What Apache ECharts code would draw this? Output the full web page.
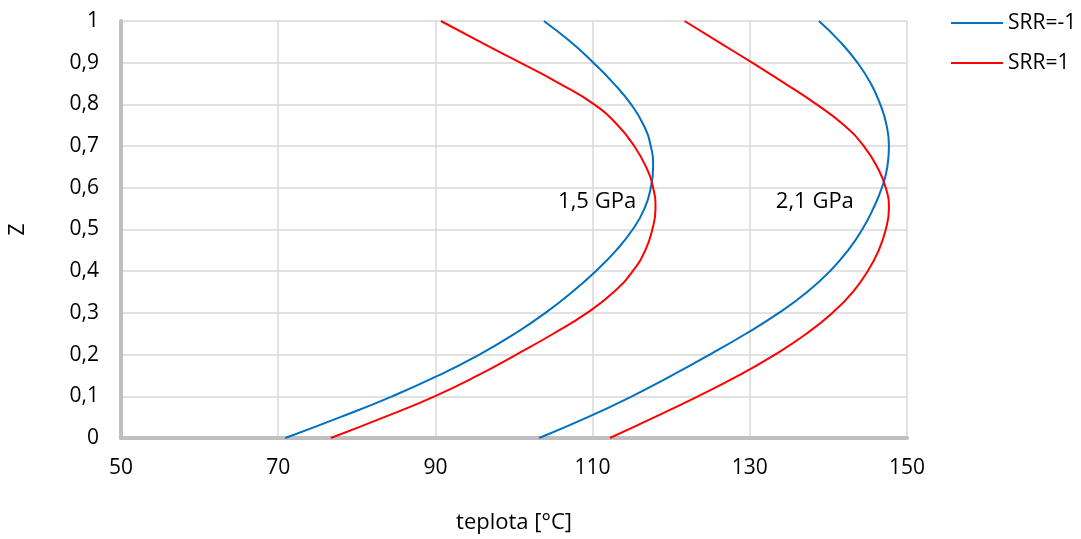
<!DOCTYPE html>
<html>
<head>
<meta charset="utf-8">
<script src="https://cdn.jsdelivr.net/npm/echarts@6/dist/echarts.min.js"></script>
<style>
html,body{margin:0;padding:0;background:#fff;}
#c{width:1081px;height:539px;}
</style>
</head>
<body>
<div id="c"></div>
<script>
// Z levels (shared) and temperatures [°C]
const zLevels = [0,0.05,0.1,0.15,0.2,0.25,0.3,0.35,0.4,0.45,0.5,0.55,0.6,0.65,0.7,0.75,0.8,0.85,0.9,0.95,1.0];
const tBlue15 = [70.9,77.9,84.5,90.4,95.6,100.1,104.0,107.4,110.4,113.0,115.1,116.6,117.4,117.7,117.4,116.5,114.9,112.7,110.1,107.2,103.8];
const tRed15  = [76.7,83.5,89.9,95.4,100.3,105.0,109.3,112.7,115.1,116.7,117.6,118.0,117.7,116.8,115.3,113.2,110.2,105.8,100.8,95.7,90.7];
const tBlue21 = [103.2,109.4,115.0,120.1,124.9,129.5,133.7,137.3,140.2,142.5,144.3,145.7,146.8,147.5,147.7,147.4,146.6,145.4,143.7,141.5,138.8];
const tRed21  = [112.2,117.9,123.4,128.6,133.2,137.2,140.5,143.1,145.0,146.4,147.3,147.7,147.3,146.2,144.5,142.0,138.5,134.5,130.3,126.0,121.7];
const seriesNames = ['SRR=-1','SRR=1'];
const annotationText = ['1,5 GPa','2,1 GPa'];
const annotationT = [115.6,143.3];
const annotationZ = [0.567,0.567];
const xTicks = {min:50,max:150,interval:20};
const yTicks = {min:0,max:1,interval:0.1};
const xName = 'teplota [°C]';
const yName = 'Z';

const FONT = '"Open Sans", "Noto Sans", sans-serif';
const BLUE = '#0070C0', RED = '#FF0000';
const fmt = v => String(+(+v).toFixed(1)).replace('.', ',');
const pairs = t => t.map((v,i)=>[v, zLevels[i]]);

function lineSeries(name, temps, color){
  return {name, type:'line', data:pairs(temps), smooth:0.5, showSymbol:false, symbol:'none',
    lineStyle:{color, width:2}, itemStyle:{color}, z:3, animation:false};
}

const chart = echarts.init(document.getElementById('c'), null, {renderer:'canvas'});
chart.setOption({
  animation:false,
  backgroundColor:'#fff',
  grid:{left:119, right:174, top:21, bottom:99, containLabel:false},
  legend:{
    orient:'vertical', left:946, top:6, itemWidth:52, itemHeight:2, itemGap:16,
    icon:'rect',
    data:seriesNames,
    textStyle:{fontFamily:FONT, fontSize:21, color:'#000', lineHeight:24}
  },
  xAxis:{
    type:'value', min:xTicks.min, max:xTicks.max, interval:xTicks.interval,
    name:xName, nameLocation:'middle', nameGap:74,
    nameTextStyle:{fontFamily:FONT, fontSize:22, color:'#000'},
    axisLine:{show:true, onZero:false, lineStyle:{color:'#BFBFBF', width:4}},
    axisTick:{show:false},
    axisLabel:{fontFamily:FONT, fontSize:21, color:'#000', margin:20, formatter:fmt},
    splitLine:{show:true, lineStyle:{color:'#D9D9D9', width:1.5}}
  },
  yAxis:{
    type:'value', min:yTicks.min, max:yTicks.max, interval:yTicks.interval,
    name:yName, nameLocation:'middle', nameGap:92, nameRotate:90,
    nameTextStyle:{fontFamily:FONT, fontSize:21, color:'#000'},
    axisLine:{show:true, onZero:false, lineStyle:{color:'#BFBFBF', width:4}},
    axisTick:{show:false},
    axisLabel:{fontFamily:FONT, fontSize:21, color:'#000', margin:22, formatter:fmt},
    splitLine:{show:true, lineStyle:{color:'#D9D9D9', width:1.5}}
  },
  series:[
    lineSeries(seriesNames[0], tBlue15, BLUE),
    lineSeries(seriesNames[1], tRed15, RED),
    lineSeries(seriesNames[0], tBlue21, BLUE),
    lineSeries(seriesNames[1], tRed21, RED),
    {type:'scatter', data:annotationText.map((s,i)=>({value:[annotationT[i],annotationZ[i]], name:s})),
     symbolSize:1, itemStyle:{opacity:0}, silent:true, z:4,
     label:{show:true, position:'left', distance:0, formatter:p=>p.name,
       fontFamily:FONT, fontSize:22, color:'#000', opacity:1}}
  ]
});
</script>
</body>
</html>
